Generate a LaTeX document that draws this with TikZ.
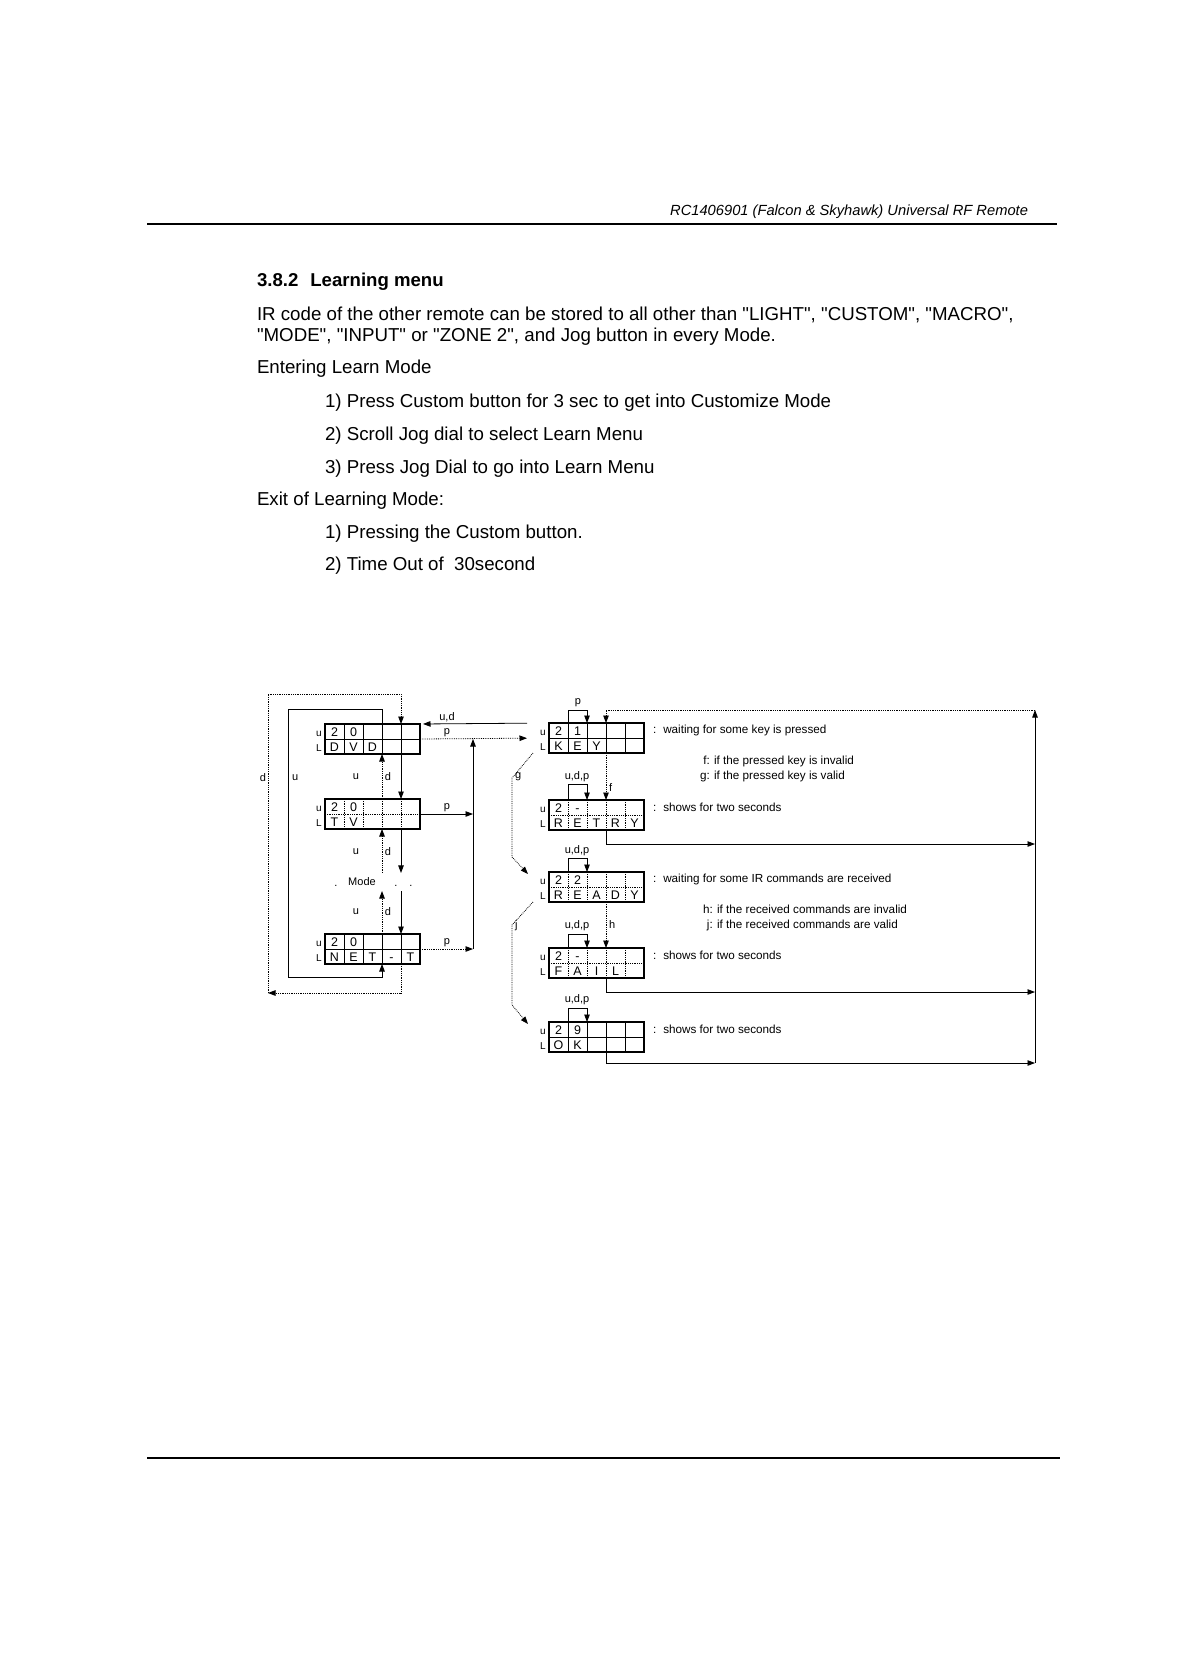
\documentclass[tikz,border=0pt]{standalone}
\usepackage{fontspec}
\setmainfont{Liberation Sans}
\usetikzlibrary{arrows.meta,calc}
\newcommand{\qq}{\textquotedbl}
\newcommand{\dispbox}[6]{%
  \node[frame] (#1) at (#2,#3) {};
  \foreach \kk in {1,...,4}{%
    \coordinate (#1-t\kk) at ($(#1.north west)+(\kk*19,0)$);
    \coordinate (#1-b\kk) at ($(#1.south west)+(\kk*19,0)$);
    \draw[#6] (#1-t\kk) -- (#1-b\kk);
  }
  \draw[#6] (#1.west) -- (#1.east);
  \foreach \ct [count=\kk] in {#4}{\node[celltxt] at ($(#1.north west)+(\kk*19-9.5,12)$) {\ct};}
  \foreach \ct [count=\kk] in {#5}{\node[celltxt] at ($(#1.north west)+(\kk*19-9.5,27)$) {\ct};}
  \node[side] (#1-u) at ($(#1.north west)+(-6,12)$) {u};
  \node[side] (#1-l) at ($(#1.north west)+(-6,27)$) {L};
}
\begin{document}
\begin{tikzpicture}[x=1pt,y=-1pt,
  every node/.style={inner sep=0pt,outer sep=0pt},
  frame/.style={draw,line width=1.1pt,minimum width=95pt,minimum height=30pt,anchor=north west},
  celltxt/.style={font=\fontsize{12.5}{13}\selectfont,anchor=base},
  side/.style={font=\fontsize{10}{11}\selectfont,anchor=base},
  lbl/.style={font=\fontsize{11}{12}\selectfont},
  desc/.style={font=\fontsize{11.7}{15}\selectfont,anchor=west},
  con/.style={line width=0.8pt},
  dl/.style={line width=0.8pt,densely dotted},
  arr/.style={-{Triangle[length=7.5pt,width=5.5pt]}},
  body/.style={font=\fontsize{18.7}{22}\selectfont,anchor=base west},
]
\fill[white] (0,0) rectangle (1188,1680);
\useasboundingbox (0,0) rectangle (1188,1680);

% ---------- page text ----------
\node[font=\fontsize{14.7}{16}\selectfont\itshape,anchor=base east] (hdr) at (1028,216) {RC1406901 (Falcon \& Skyhawk) Universal RF Remote};
\draw[line width=1.1pt] (147,224) -- (1057,224);
\node[font=\fontsize{18.6}{22}\selectfont\bfseries,anchor=base west] (head) at (257,287) {3.8.2\hspace{12pt}Learning menu};
\node[body] (t1) at (257,320) {IR code of the other remote can be stored to all other than \qq LIGHT\qq, \qq CUSTOM\qq, \qq MACRO\qq,};
\node[body] (t2) at (257,341) {\qq MODE\qq, \qq INPUT\qq\ or \qq ZONE 2\qq, and Jog button in every Mode.};
\node[body] (t3) at (257,373) {Entering Learn Mode};
\node[body] (t4) at (325,407) {1) Press Custom button for 3 sec to get into Customize Mode};
\node[body] (t5) at (325,440) {2) Scroll Jog dial to select Learn Menu};
\node[body] (t6) at (325,473) {3) Press Jog Dial to go into Learn Menu};
\node[body] (t7) at (257,505) {Exit of Learning Mode:};
\node[body] (t8) at (325,538) {1) Pressing the Custom button.};
\node[body] (t9) at (325,570) {2) Time Out of\ \ 30second};
\draw[line width=1.1pt] (147,1458) -- (1060,1458);

% ---------- left column ----------
\dispbox{dvd}{325}{724}{2,0,{},{},{}}{D,V,D,{},{}}{con}
\dispbox{tv}{325}{799}{2,0,{},{},{}}{T,V,{},{},{}}{dl}
\dispbox{net}{325}{934}{2,0,{},{},{}}{N,E,T,-,T}{con}
\node[lbl,inner ysep=5pt] (mode) at (362,882) {Mode};
\node[lbl,anchor=base] (dot1) at (336,886) {.};
\node[lbl,anchor=base] (dot2) at (396,886) {.};
\node[lbl,anchor=base] (dot3) at (411,886) {.};

\draw[dl,arr] (tv-t3) -- (dvd-b3);
\draw[con,arr] (dvd-b4) -- (tv-t4);
\node[lbl] (lu1) at (356,777) {u};
\node[lbl] (ld1) at (388,777) {d};
\draw[dl,arr] (tv-b3 |- mode.north) -- (tv-b3);
\draw[con,arr] (tv-b4) -- (tv-b4 |- mode.north);
\node[lbl] (lu2) at (356,852) {u};
\node[lbl] (ld2) at (388,852) {d};
\draw[dl,arr] (net-t3) -- (net-t3 |- mode.south);
\draw[con,arr] (net-t4 |- mode.south) -- (net-t4);
\node[lbl] (lu3) at (356,912) {u};
\node[lbl] (ld3) at (388,912) {d};

% outer d loop
\coordinate (obl) at (268,993);
\coordinate (otl) at (268,694);
\draw[dl,arr] (net-b4) |- (obl);
\draw[dl,arr] (obl) -- (otl) -| (dvd-t4);
\node[lbl,anchor=east] (ldo) at (266,778) {d};
% inner u loop
\coordinate (itl) at (288,709);
\coordinate (ibl) at (288,977);
\draw[con,arr] (dvd-t3) |- (itl) -- (ibl) -| (net-b3);
\node[lbl,anchor=west] (lui) at (292,778) {u};

% ---------- right column ----------
\dispbox{key}{549}{723}{2,1,{},{},{}}{K,E,Y,{},{}}{con}
\dispbox{retry}{549}{800}{2,-,{},{},{}}{R,E,T,R,Y}{dl}
\dispbox{ready}{549}{872}{2,2,{},{},{}}{R,E,A,D,Y}{dl}
\dispbox{fail}{549}{948}{2,-,{},{},{}}{F,A,I,L,{}}{dl}
\dispbox{ok}{549}{1022}{2,9,{},{},{}}{O,K,{},{},{}}{con}

% p arrows from the mode list
\coordinate (colT) at (473,739);
\draw[dl,arr,shorten >=22pt] (dvd.east) -- (key.west);
\draw[con,arr] (tv.east) -- (tv.east -| colT);
\draw[dl,arr] (net.east) -- (net.east -| colT);
\draw[con,arr] (net.east -| colT) -- (colT);
\draw[con,arr,shorten <=22pt,shorten >=3pt] (key.north west) -- (dvd.north east);
\node[lbl] (lud) at (447,717) {u,d};
\node[lbl] (lp1) at (447,733) {p};
\node[lbl] (lp2) at (447,808) {p};
\node[lbl] (lp3) at (447,943) {p};

% self loops
\draw[con,arr] (key-t1) -- ++(0,-13) -| (key-t2);
\node[lbl] (lpk) at (578,703) {p};
\draw[con,arr] (retry-t1) -- ++(0,-16) -| (retry-t2);
\node[lbl] (lr) at (577,777) {u,d,p};
\draw[con,arr] (ready-t1) -- ++(0,-14) -| (ready-t2);
\node[lbl] (lre) at (577,851) {u,d,p};
\draw[con,arr] (fail-t1) -- ++(0,-14) -| (fail-t2);
\node[lbl] (lf) at (577,926) {u,d,p};
\draw[con,arr] (ok-t1) -- ++(0,-14) -| (ok-t2);
\node[lbl] (lo) at (577,1000) {u,d,p};

% f / h
\draw[dl,arr] (key-b3) -- (retry-t3);
\node[lbl,anchor=west] (lff) at (609,788) {f};
\draw[dl,arr] (ready-b3) -- (fail-t3);
\node[lbl,anchor=west] (lhh) at (609,925) {h};

% g / j
\coordinate (g1) at (512,778);
\coordinate (g2) at (512,857);
\draw[dl,arr] ([xshift=-16pt]key.south west) -- (g1) -- (g2) -- ([xshift=-21pt,yshift=-2pt]ready.north west);
\node[lbl,anchor=west] (lgg) at (515,777) {g};
\coordinate (j1) at (512,925);
\coordinate (j2) at (512,1005);
\draw[dl,arr] ([xshift=-16pt]ready.south west) -- (j1) -- (j2) -- ([xshift=-21pt,yshift=-2pt]ok.north west);
\node[lbl,anchor=west] (ljj) at (515,926) {j};

% return lines to the key state
\coordinate (rt) at (1035,710);
\draw[dl,arr] (rt) -| (key-t3);
\draw[con,arr] (retry-b3) -- ++(0,14) coordinate (e1) -- (e1 -| rt);
\draw[con,arr] (fail-b3) -- ++(0,14) coordinate (e2) -- (e2 -| rt);
\draw[con,arr] (ok-b3) -- ++(0,11) coordinate (e3) -- (e3 -| rt);
\draw[con,arr] (e3 -| rt) -- (rt);

% descriptions
\node[desc] (dk) at ($(key.north east)+(9,7.5)$) {:\hspace{7pt}waiting for some key is pressed};
\node[desc] (dfg) at (700,769) {\begin{tabular}{@{}r@{ }l@{}}f: & if the pressed key is invalid\\ g: & if the pressed key is valid\end{tabular}};
\node[desc] (dr) at ($(retry.north east)+(9,7.5)$) {:\hspace{7pt}shows for two seconds};
\node[desc] (drd) at ($(ready.north east)+(9,7.5)$) {:\hspace{7pt}waiting for some IR commands are received};
\node[desc] (dhj) at (703,918) {\begin{tabular}{@{}r@{ }l@{}}h: & if the received commands are invalid\\ j: & if the received commands are valid\end{tabular}};
\node[desc] (dfa) at ($(fail.north east)+(9,7.5)$) {:\hspace{7pt}shows for two seconds};
\node[desc] (dok) at ($(ok.north east)+(9,7.5)$) {:\hspace{7pt}shows for two seconds};
\end{tikzpicture}
\end{document}
